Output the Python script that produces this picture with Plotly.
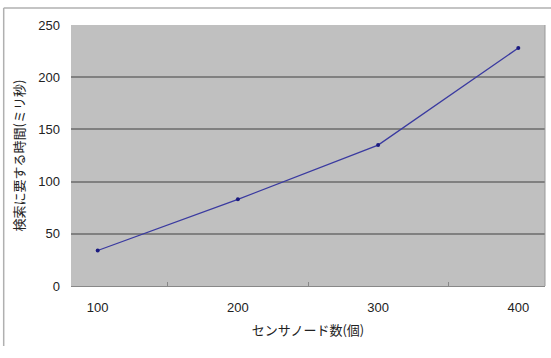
import plotly.graph_objects as go

categories = ["100", "200", "300", "400"]
values = [34, 83, 135, 228]
y_ticks = [0, 50, 100, 150, 200, 250]

font_family = "Noto Sans CJK JP, Liberation Sans, sans-serif"
tick_font = dict(family="Liberation Sans, Arial, sans-serif", size=13, color="#222")

fig = go.Figure()
fig.add_trace(go.Scatter(
    x=categories, y=values, mode="lines+markers",
    line=dict(color="#3a3aa0", width=1.3),
    marker=dict(color="#1a1a80", size=4),
    showlegend=False,
))

fig.update_layout(
    width=551, height=358,
    margin=dict(l=71, r=6, t=25, b=72),
    paper_bgcolor="white",
    plot_bgcolor="#c0c0c0",
    font=dict(family=font_family, size=12, color="#222"),
    xaxis=dict(
        type="category",
        tickson="boundaries",
        ticks="inside", ticklen=4, tickcolor="#888",
        showgrid=False,
        showline=True, linecolor="#888", linewidth=1,
        ticklabelstandoff=9,
        tickfont=tick_font,
        title=dict(text="センサノード数(個)", standoff=12, font=dict(size=13)),
        mirror=False,
    ),
    yaxis=dict(
        range=[0, 250],
        tickvals=y_ticks,
        showgrid=True, gridcolor="#808080", gridwidth=1.5,
        zeroline=False,
        showline=False,
        ticks="", ticklabelstandoff=10,
        tickfont=tick_font,
        title=dict(text="検索に要する時間(ミリ秒)", standoff=10, font=dict(size=13)),
    ),
    shapes=[
        dict(type="line", xref="paper", yref="paper",
             x0=-0.142, x1=1.02, y0=1.065, y1=1.065,
             line=dict(color="#b0b0b0", width=1.5)),
        dict(type="line", xref="paper", yref="paper",
             x0=-0.142, x1=-0.142, y0=1.065, y1=-0.23,
             line=dict(color="#b0b0b0", width=1.5)),
        dict(type="line", xref="paper", yref="paper",
             x0=1, x1=1, y0=0, y1=1,
             line=dict(color="#999", width=1)),
    ],
)

fig.write_html("out.html")
